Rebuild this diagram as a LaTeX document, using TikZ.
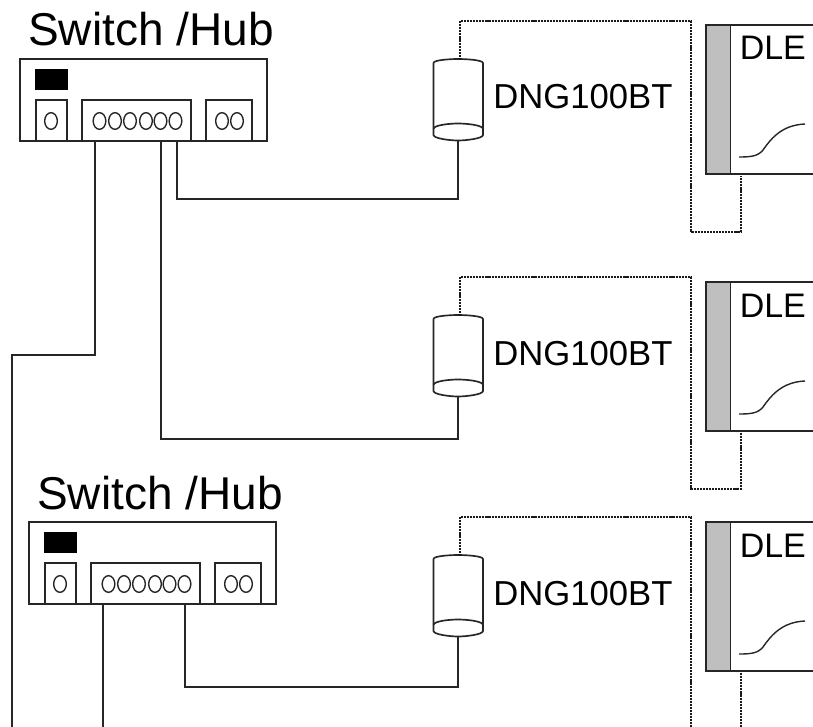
\documentclass[tikz,border=0pt]{standalone}
\usepackage{fontspec}
\setmainfont{Liberation Sans}
\usetikzlibrary{shapes.geometric}
\tikzset{
  px/.style={x=0.75pt,y=-0.75pt},
  wire/.style={line width=1.25pt,black!85},
  dotwire/.style={line width=2pt,black!90,dash pattern=on 1.6pt off 0.7pt},
  outl/.style={draw=black!85,line width=1.25pt,fill=white,inner sep=0pt,outer sep=0pt,anchor=north west},
  hole/.style={draw=black!85,line width=1.05pt,ellipse,minimum width=9.5pt,minimum height=12.5pt,inner sep=0pt},
  bigt/.style={font=\fontsize{34.5}{34.5}\selectfont,inner sep=0pt,anchor=base west},
  midt/.style={font=\fontsize{26}{26}\selectfont,inner sep=0pt,anchor=base west},
  dlet/.style={font=\fontsize{25.5}{26}\selectfont,inner sep=0pt,anchor=base west},
}
\newcommand{\swbox}[3]{% prefix, x, y offsets
  \begin{scope}[shift={(#2,#3)}]
    \node[bigt] (#1t) at (28,46) {Switch /Hub};
    \node[outl,minimum width=185.25pt,minimum height=61.5pt] (#1o) at (20,59) {};
    \node[inner sep=0pt,outer sep=0pt,fill=black,anchor=north west,minimum width=24.5pt,minimum height=16pt] (#1led) at (35,69) {};
    \node[outl,minimum width=23.25pt,minimum height=30.75pt] (#1pa) at (36,100) {};
    \node[outl,minimum width=81.75pt,minimum height=30.75pt] (#1pb) at (82,100) {};
    \node[outl,minimum width=34.5pt,minimum height=30.75pt] (#1pc) at (206,100) {};
    \node[hole] (#1h0) at (51,121) {};
    \foreach \n/\xx in {1/99.5,2/115,3/130,4/146,5/160.5,6/175.5}{\node[hole] (#1h\n) at (\xx,121) {};}
    \node[hole] (#1h7) at (222,121) {};
    \node[hole] (#1h8) at (237,121) {};
  \end{scope}}
\newcommand{\dngbox}[3]{% prefix, x, y offsets
  \begin{scope}[shift={(#2,#3)}]
    \coordinate (#1top) at (460,60);
    \coordinate (#1bot) at (458,140.5);
    \draw[wire,line join=round] (433.5,63) .. controls (433.5,60) and (450,59) .. (458,59) .. controls (466,59) and (483,60) .. (483,63) -- (483,135)
      .. controls (483,138.5) and (466,140.5) .. (458,140.5) .. controls (450,140.5) and (433.5,138.5) .. (433.5,135) -- cycle;
    \draw[wire] (433.5,129) .. controls (433.5,125) and (450,123.5) .. (458,123.5) .. controls (466,123.5) and (483,125) .. (483,129);
    \node[midt] (#1t) at (493,109) {DNG100BT};
  \end{scope}}
\newcommand{\dlebox}[3]{% prefix, x, y offsets
  \begin{scope}[shift={(#2,#3)}]
    \fill[black!25] (706,25) rectangle (730.5,174);
    \draw[wire] (813,25) -- (706,25) -- (706,174) -- (813,174);
    \draw[wire] (730.5,25) -- (730.5,174);
    \coordinate (#1b) at (741,176);
    \node[dlet] (#1t) at (739.5,60) {DLE};
    \draw[line width=1.05pt,black!85] (739,157) .. controls (752,157) and (758,156) .. (763,150) .. controls (772,137) and (783,125) .. (805,124);
  \end{scope}}
\begin{document}
\begin{tikzpicture}[px]
\useasboundingbox (0,0) rectangle (813,727);
\swbox{a}{0}{0}
\swbox{b}{9}{463}
\dngbox{p}{0}{0}
\dngbox{q}{0}{256}
\dngbox{r}{0}{496}
\dlebox{u}{0}{0}
\dlebox{v}{0}{257}
\dlebox{w}{0}{497}
% solid connectors
\coordinate (e1) at (12,727);
\coordinate (e2) at (103,727);
\draw[wire] (95,141) -- (95,355) -- (12,355) -- (e1);
\draw[wire] (161,141) -- (161,439) -- (458,439) -- (qbot);
\draw[wire] (177,141) -- (177,199) -- (458,199) -- (pbot);
\draw[wire] (103,604) -- (e2);
\draw[wire] (185,604) -- (185,687) -- (458,687) -- (rbot);
% dotted connectors
\coordinate (e3) at (691,727);
\coordinate (e4) at (741,727);
\draw[dotwire] (ptop) -- (460,21) -- (691,21) -- (691,232) -- (741,232) -- (ub);
\draw[dotwire] (qtop) -- (460,277) -- (691,277) -- (691,489) -- (741,489) -- (vb);
\draw[dotwire] (rtop) -- (460,517) -- (691,517) -- (e3);
\draw[dotwire] (wb) -- (e4);
\end{tikzpicture}
\end{document}
